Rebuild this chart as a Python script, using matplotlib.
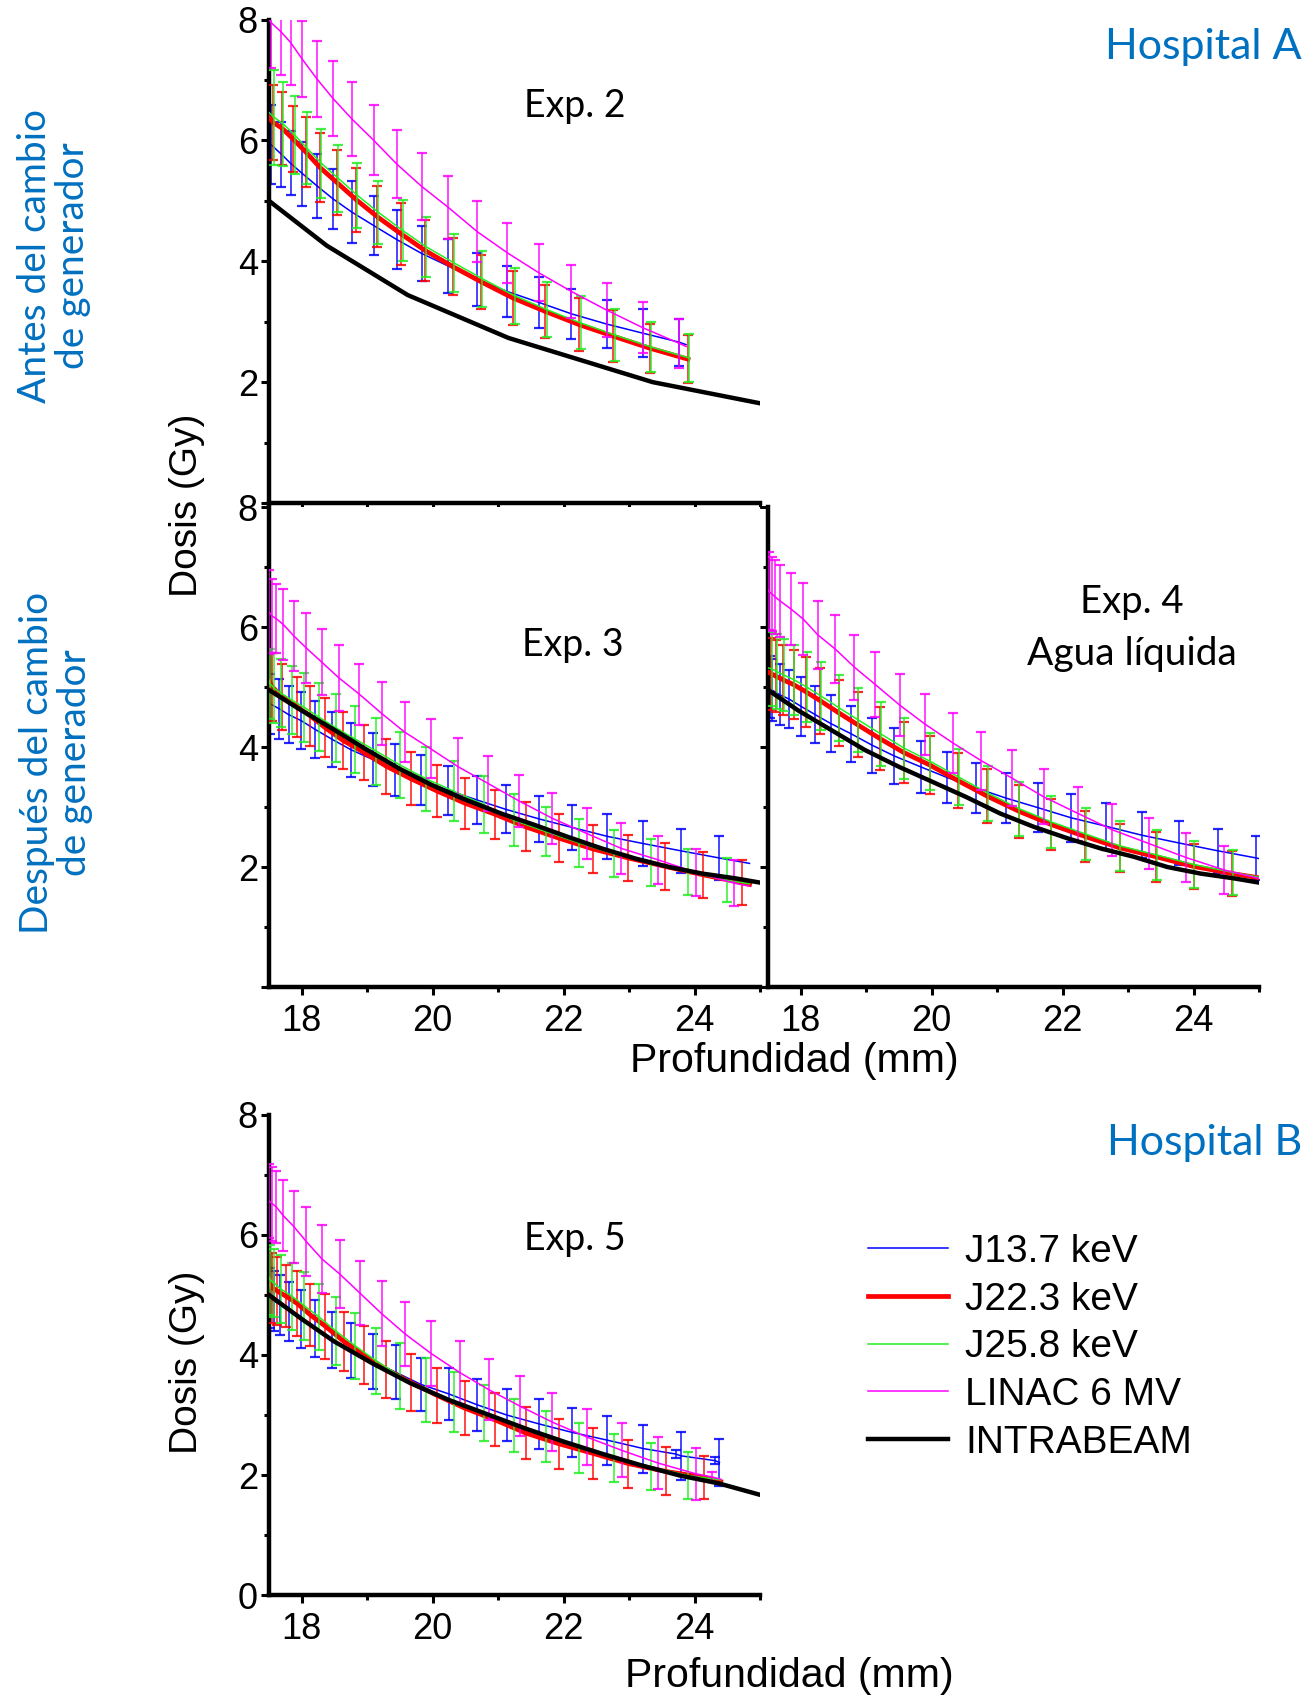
import numpy as np
import matplotlib
matplotlib.use("Agg")
import matplotlib.pyplot as plt
from matplotlib.lines import Line2D
from matplotlib.ticker import MultipleLocator

NA = np.nan  # point on the curve without an error bar

# ---------------- Exp. 2 (Hospital A, before generator change) ----------------
exp2_j137_x = [17.50, 17.53, 17.69, 17.83, 18.01, 18.23, 18.48, 18.77, 19.10, 19.45, 19.83, 20.24, 20.68, 21.14, 21.62, 22.12, 22.66, 23.21, 23.77, 23.87]
exp2_j137_y = [5.95, 5.93, 5.77, 5.62, 5.45, 5.25, 5.03, 4.81, 4.59, 4.36, 4.13, 3.92, 3.70, 3.50, 3.32, 3.13, 2.96, 2.81, 2.66, 2.62]
exp2_j137_e = [NA, 0.66, 0.54, 0.53, 0.53, 0.53, 0.50, 0.51, 0.49, 0.48, 0.46, 0.45, 0.44, 0.42, 0.42, 0.41, 0.40, 0.40, 0.39, NA]

exp2_j223_x = [17.50, 17.56, 17.70, 17.87, 18.06, 18.28, 18.54, 18.83, 19.15, 19.52, 19.88, 20.31, 20.74, 21.23, 21.72, 22.24, 22.76, 23.32, 23.90]
exp2_j223_y = [6.38, 6.30, 6.20, 6.02, 5.81, 5.55, 5.30, 5.02, 4.74, 4.45, 4.18, 3.91, 3.66, 3.39, 3.17, 2.95, 2.76, 2.56, 2.38]
exp2_j223_e = [NA, 0.62, 0.60, 0.55, 0.58, 0.57, 0.54, 0.53, 0.51, 0.51, 0.50, 0.47, 0.45, 0.45, 0.44, 0.44, 0.43, 0.41, 0.40]

exp2_j258_x = [17.50, 17.58, 17.72, 17.89, 18.08, 18.30, 18.56, 18.85, 19.17, 19.54, 19.90, 20.33, 20.76, 21.25, 21.74, 22.26, 22.78, 23.34, 23.92]
exp2_j258_y = [6.46, 6.38, 6.27, 6.09, 5.87, 5.62, 5.37, 5.09, 4.81, 4.51, 4.24, 3.97, 3.71, 3.43, 3.20, 2.98, 2.78, 2.58, 2.40]
exp2_j258_e = [NA, 0.78, 0.70, 0.64, 0.60, 0.57, 0.55, 0.54, 0.52, 0.51, 0.50, 0.48, 0.46, 0.46, 0.45, 0.44, 0.43, 0.41, 0.40]

exp2_linac_x = [17.50, 17.53, 17.68, 17.83, 18.01, 18.23, 18.48, 18.77, 19.10, 19.45, 19.83, 20.24, 20.68, 21.14, 21.62, 22.12, 22.66, 23.21, 23.77, 23.87]
exp2_linac_y = [8.00, 7.95, 7.80, 7.62, 7.34, 7.02, 6.69, 6.35, 6.00, 5.61, 5.24, 4.89, 4.49, 4.14, 3.81, 3.50, 3.19, 2.90, 2.64, 2.59]
exp2_linac_e = [NA, 0.75, 0.72, 0.70, 0.63, 0.63, 0.62, 0.61, 0.58, 0.56, 0.55, 0.52, 0.51, 0.50, 0.47, 0.44, 0.45, 0.42, 0.41, NA]

exp2_intra_x = [17.50, 18.38, 19.62, 21.16, 23.36, 25.00]
exp2_intra_y = [5.00, 4.26, 3.44, 2.73, 2.00, 1.65]

# ---------------- Exp. 3 (Hospital A, after generator change) ----------------
exp3_j137_x = [17.50, 17.52, 17.65, 17.80, 17.99, 18.21, 18.46, 18.76, 19.09, 19.43, 19.82, 20.23, 20.67, 21.12, 21.63, 22.13, 22.67, 23.22, 23.79, 24.38, 24.84]
exp3_j137_y = [4.75, 4.72, 4.64, 4.54, 4.44, 4.29, 4.13, 3.95, 3.79, 3.62, 3.45, 3.28, 3.12, 2.96, 2.80, 2.66, 2.51, 2.39, 2.27, 2.15, 2.06]
exp3_j137_e = [NA, 0.50, 0.50, 0.48, 0.48, 0.47, 0.46, 0.45, 0.44, 0.43, 0.42, 0.41, 0.40, 0.40, 0.39, 0.38, 0.38, 0.37, 0.37, 0.37, NA]

exp3_j223_x = [17.50, 17.55, 17.70, 17.93, 18.13, 18.36, 18.63, 18.95, 19.29, 19.67, 20.06, 20.50, 20.95, 21.42, 21.93, 22.45, 22.99, 23.55, 24.13, 24.72, 24.84]
exp3_j223_y = [5.10, 5.00, 4.84, 4.67, 4.52, 4.32, 4.11, 3.91, 3.68, 3.47, 3.27, 3.06, 2.88, 2.67, 2.48, 2.30, 2.15, 2.01, 1.87, 1.74, 1.71]
exp3_j223_e = [NA, 0.57, 0.55, 0.50, 0.50, 0.49, 0.47, 0.46, 0.46, 0.44, 0.43, 0.42, 0.41, 0.41, 0.40, 0.40, 0.38, 0.39, 0.38, 0.37, NA]

exp3_j258_x = [17.50, 17.52, 17.58, 17.68, 17.85, 18.04, 18.26, 18.52, 18.82, 19.14, 19.50, 19.90, 20.33, 20.78, 21.24, 21.73, 22.24, 22.77, 23.33, 23.90, 24.49, 24.84]
exp3_j258_y = [5.10, 5.05, 4.98, 4.90, 4.78, 4.66, 4.50, 4.32, 4.13, 3.93, 3.70, 3.47, 3.26, 3.04, 2.78, 2.59, 2.40, 2.22, 2.07, 1.92, 1.78, 1.72]
exp3_j258_e = [NA, 0.58, 0.58, 0.57, 0.57, 0.57, 0.57, 0.57, 0.56, 0.56, 0.55, 0.53, 0.50, 0.47, 0.43, 0.41, 0.40, 0.39, 0.39, 0.38, 0.37, NA]

exp3_linac_x = [17.50, 17.55, 17.61, 17.72, 17.88, 18.07, 18.31, 18.57, 18.88, 19.22, 19.57, 19.97, 20.39, 20.85, 21.32, 21.83, 22.35, 22.88, 23.44, 24.02, 24.61, 24.84]
exp3_linac_y = [6.25, 6.18, 6.14, 6.04, 5.85, 5.65, 5.41, 5.15, 4.88, 4.56, 4.25, 3.97, 3.67, 3.39, 3.10, 2.81, 2.56, 2.31, 2.12, 1.91, 1.73, 1.68]
exp3_linac_e = [0.70, 0.62, 0.58, 0.59, 0.58, 0.58, 0.55, 0.55, 0.51, 0.52, 0.50, 0.49, 0.48, 0.46, 0.44, 0.43, 0.43, 0.42, 0.40, 0.39, 0.38, NA]

exp3_intra_x = [17.50, 17.95, 18.46, 18.97, 19.49, 20.00, 20.46, 21.05, 21.56, 22.07, 22.58, 23.10, 23.61, 24.12, 24.63, 25.00]
exp3_intra_y = [4.95, 4.64, 4.31, 3.97, 3.64, 3.36, 3.14, 2.89, 2.70, 2.50, 2.31, 2.14, 2.00, 1.89, 1.81, 1.74]

# ---------------- Exp. 4 (liquid water) ----------------
exp4_j137_x = [17.50, 17.53, 17.56, 17.68, 17.82, 18.00, 18.22, 18.46, 18.77, 19.09, 19.43, 19.83, 20.24, 20.67, 21.13, 21.62, 22.13, 22.66, 23.21, 23.78, 24.37, 24.96, 25.00]
exp4_j137_y = [5.02, 5.00, 4.95, 4.87, 4.80, 4.68, 4.54, 4.39, 4.22, 4.03, 3.85, 3.67, 3.49, 3.32, 3.15, 2.99, 2.82, 2.68, 2.53, 2.40, 2.27, 2.15, 2.14]
exp4_j137_e = [NA, 0.52, 0.52, 0.51, 0.49, 0.49, 0.47, 0.47, 0.47, 0.46, 0.46, 0.43, 0.43, 0.42, 0.42, 0.41, 0.40, 0.39, 0.38, 0.37, 0.37, 0.37, NA]

exp4_j223_x = [17.50, 17.55, 17.62, 17.73, 17.89, 18.08, 18.30, 18.58, 18.87, 19.21, 19.57, 19.97, 20.40, 20.85, 21.33, 21.82, 22.34, 22.87, 23.43, 24.00, 24.59, 25.00]
exp4_j223_y = [5.25, 5.22, 5.18, 5.12, 5.04, 4.92, 4.77, 4.57, 4.37, 4.14, 3.91, 3.70, 3.44, 3.18, 2.93, 2.71, 2.51, 2.32, 2.17, 2.01, 1.89, 1.82]
exp4_j223_e = [NA, 0.60, 0.60, 0.58, 0.58, 0.58, 0.55, 0.55, 0.54, 0.53, 0.51, 0.48, 0.46, 0.45, 0.44, 0.42, 0.43, 0.40, 0.42, 0.38, 0.37, NA]

exp4_j258_x = [17.50, 17.56, 17.63, 17.74, 17.90, 18.09, 18.31, 18.59, 18.88, 19.22, 19.58, 19.98, 20.41, 20.86, 21.34, 21.83, 22.35, 22.88, 23.44, 24.01, 24.60, 25.00]
exp4_j258_y = [5.32, 5.30, 5.26, 5.20, 5.12, 5.00, 4.85, 4.65, 4.45, 4.22, 3.98, 3.76, 3.50, 3.23, 2.97, 2.75, 2.55, 2.35, 2.20, 2.04, 1.91, 1.83]
exp4_j258_e = [NA, 0.62, 0.62, 0.60, 0.58, 0.58, 0.56, 0.55, 0.54, 0.53, 0.51, 0.48, 0.47, 0.46, 0.45, 0.43, 0.43, 0.41, 0.42, 0.39, 0.38, NA]

exp4_linac_x = [17.50, 17.51, 17.56, 17.61, 17.69, 17.85, 18.04, 18.26, 18.53, 18.82, 19.14, 19.51, 19.90, 20.32, 20.76, 21.23, 21.71, 22.24, 22.76, 23.32, 23.88, 24.47, 25.00]
exp4_linac_y = [6.62, 6.60, 6.55, 6.50, 6.43, 6.30, 6.13, 5.87, 5.63, 5.33, 5.04, 4.70, 4.38, 4.07, 3.77, 3.48, 3.17, 2.89, 2.62, 2.39, 2.16, 1.95, 1.81]
exp4_linac_e = [NA, 0.65, 0.62, 0.62, 0.60, 0.60, 0.60, 0.57, 0.57, 0.54, 0.54, 0.52, 0.51, 0.50, 0.48, 0.47, 0.46, 0.45, 0.43, 0.43, 0.41, 0.40, NA]

exp4_intra_x = [17.50, 17.96, 18.47, 18.98, 19.50, 20.01, 20.52, 21.05, 21.56, 22.07, 22.58, 23.09, 23.60, 24.11, 24.62, 25.00]
exp4_intra_y = [4.95, 4.61, 4.28, 3.95, 3.67, 3.42, 3.17, 2.89, 2.67, 2.48, 2.31, 2.17, 2.00, 1.89, 1.81, 1.74]

# ---------------- Exp. 5 (Hospital B) ----------------
exp5_j137_x = [17.50, 17.52, 17.57, 17.67, 17.81, 17.99, 18.21, 18.46, 18.76, 19.09, 19.44, 19.82, 20.25, 20.68, 21.13, 21.63, 22.13, 22.67, 23.22, 23.71, 23.79, 24.31, 24.38]
exp5_j137_y = [4.98, 4.95, 4.90, 4.84, 4.73, 4.60, 4.44, 4.25, 4.07, 3.89, 3.71, 3.51, 3.35, 3.17, 3.00, 2.85, 2.71, 2.58, 2.44, 2.35, 2.32, 2.24, 2.21]
exp5_j137_e = [NA, 0.50, 0.50, 0.50, 0.49, 0.49, 0.48, 0.47, 0.46, 0.46, 0.45, 0.44, 0.43, 0.43, 0.43, 0.42, 0.41, 0.41, 0.40, 0.07, 0.40, 0.06, 0.39]

exp5_j223_x = [17.50, 17.55, 17.62, 17.76, 17.93, 18.13, 18.36, 18.64, 18.95, 19.29, 19.67, 20.06, 20.50, 20.95, 21.42, 21.93, 22.45, 22.99, 23.56, 24.14, 24.40]
exp5_j223_y = [5.20, 5.12, 5.07, 4.98, 4.86, 4.67, 4.48, 4.23, 4.00, 3.76, 3.54, 3.33, 3.11, 2.92, 2.70, 2.52, 2.36, 2.19, 2.06, 1.96, 1.89]
exp5_j223_e = [NA, 0.58, 0.57, 0.52, 0.54, 0.52, 0.54, 0.49, 0.49, 0.47, 0.47, 0.46, 0.45, 0.44, 0.43, 0.42, 0.42, 0.40, 0.40, 0.36, NA]

exp5_j258_x = [17.50, 17.52, 17.58, 17.68, 17.85, 18.04, 18.27, 18.52, 18.82, 19.14, 19.50, 19.90, 20.33, 20.78, 21.24, 21.73, 22.24, 22.77, 23.33, 23.90, 24.40]
exp5_j258_y = [5.30, 5.25, 5.20, 5.10, 4.98, 4.82, 4.63, 4.40, 4.15, 3.90, 3.65, 3.42, 3.22, 3.03, 2.83, 2.64, 2.45, 2.29, 2.14, 1.99, 1.92]
exp5_j258_e = [NA, 0.58, 0.56, 0.56, 0.56, 0.57, 0.55, 0.56, 0.55, 0.55, 0.55, 0.53, 0.50, 0.47, 0.44, 0.42, 0.41, 0.40, 0.39, 0.39, NA]

exp5_linac_x = [17.50, 17.55, 17.61, 17.72, 17.88, 18.07, 18.31, 18.58, 18.89, 19.22, 19.58, 19.97, 20.41, 20.86, 21.33, 21.83, 22.36, 22.89, 23.44, 24.02, 24.26, 24.40]
exp5_linac_y = [6.57, 6.52, 6.47, 6.32, 6.14, 5.89, 5.60, 5.35, 5.03, 4.69, 4.35, 4.03, 3.71, 3.42, 3.15, 2.88, 2.63, 2.41, 2.20, 2.02, 1.97, 1.93]
exp5_linac_e = [0.62, 0.62, 0.60, 0.59, 0.60, 0.58, 0.56, 0.56, 0.53, 0.54, 0.54, 0.54, 0.52, 0.51, 0.50, 0.48, 0.47, 0.45, 0.44, 0.43, 0.08, NA]

exp5_intra_x = [17.50, 18.00, 18.49, 19.08, 19.66, 20.25, 20.84, 21.43, 22.02, 22.60, 23.19, 23.78, 24.37, 25.00]
exp5_intra_y = [5.00, 4.60, 4.23, 3.86, 3.53, 3.25, 3.01, 2.77, 2.55, 2.35, 2.16, 1.99, 1.86, 1.67]

series_labels = ["J13.7 keV", "J22.3 keV", "J25.8 keV", "LINAC 6 MV", "INTRABEAM"]
series_colors = ["#0000ff", "#ff0000", "#22ee22", "#ff00ff", "#000000"]
series_widths = [1.1, 3.4, 1.1, 1.1, 3.2]

# ---------------------------------------------------------------------------
W, H = 1315, 1701
plt.rcParams['font.family'] = ['Liberation Sans', 'DejaVu Sans']
fig = plt.figure(figsize=(W / 100, H / 100), dpi=100)
TEXT_FONT = ['Lato', 'DejaVu Sans']
BLUE_TXT = '#0070C0'


def px_axes(left, top, right, bottom):
    return fig.add_axes([left / W, 1 - bottom / H, (right - left) / W, (bottom - top) / H])


def style_axes(ax, xlabels=True, ylabels=True, zero_label=True):
    ax.set_xlim(17.5, 25)
    ax.set_ylim(0, 8)
    for s in ('top', 'right'):
        ax.spines[s].set_visible(False)
    for s in ('left', 'bottom'):
        ax.spines[s].set_linewidth(3.2)
        ax.spines[s].set_capstyle('projecting')
    ax.xaxis.set_major_locator(MultipleLocator(2))
    ax.xaxis.set_minor_locator(MultipleLocator(1))
    ax.yaxis.set_major_locator(MultipleLocator(2))
    ax.yaxis.set_minor_locator(MultipleLocator(1))
    ax.tick_params(which='major', direction='out', length=6, width=2.2, labelsize=26)
    ax.tick_params(which='minor', direction='out', length=3.5, width=2.2)
    ax.tick_params(axis='x', which='major', pad=6)
    ax.tick_params(axis='y', which='major', pad=2)
    if not xlabels:
        ax.tick_params(axis='x', labelbottom=False)
    if not ylabels:
        ax.tick_params(axis='y', labelleft=False)
    elif not zero_label:
        ax.set_yticks([0, 2, 4, 6, 8])
        ax.set_yticklabels(['', '2', '4', '6', '8'])


def draw_series(ax, x, y, e, k):
    x = np.asarray(x, float)
    y = np.asarray(y, float)
    color = series_colors[k]
    z = 2 + k
    ax.plot(x, y, color=color, lw=series_widths[k], zorder=z + 0.3,
            solid_joinstyle='round')
    if e is not None:
        e = np.asarray(e, float)
        m = ~np.isnan(e)
        ax.errorbar(x[m], y[m], yerr=e[m], fmt='none', ecolor=color,
                    elinewidth=1.2, capsize=3.6, capthick=1.6, alpha=0.85, zorder=z)


def fill_panel(ax, j137, j223, j258, linac, intra):
    draw_series(ax, *j137, 0)
    draw_series(ax, *j223, 1)
    draw_series(ax, *j258, 2)
    draw_series(ax, *linac, 3)
    draw_series(ax, intra[0], intra[1], None, 4)


# Panel frames (pixel boxes)
ax2 = px_axes(269, 19.5, 760, 503)
ax3 = px_axes(269, 507, 760, 987)
ax4 = px_axes(768, 507, 1259, 987)
ax5 = px_axes(269, 1115, 760, 1595)

style_axes(ax2, xlabels=False, zero_label=False)
style_axes(ax3, zero_label=False)
style_axes(ax4, ylabels=False)
style_axes(ax5)

fill_panel(ax2, (exp2_j137_x, exp2_j137_y, exp2_j137_e), (exp2_j223_x, exp2_j223_y, exp2_j223_e),
           (exp2_j258_x, exp2_j258_y, exp2_j258_e), (exp2_linac_x, exp2_linac_y, exp2_linac_e),
           (exp2_intra_x, exp2_intra_y))
fill_panel(ax3, (exp3_j137_x, exp3_j137_y, exp3_j137_e), (exp3_j223_x, exp3_j223_y, exp3_j223_e),
           (exp3_j258_x, exp3_j258_y, exp3_j258_e), (exp3_linac_x, exp3_linac_y, exp3_linac_e),
           (exp3_intra_x, exp3_intra_y))
fill_panel(ax4, (exp4_j137_x, exp4_j137_y, exp4_j137_e), (exp4_j223_x, exp4_j223_y, exp4_j223_e),
           (exp4_j258_x, exp4_j258_y, exp4_j258_e), (exp4_linac_x, exp4_linac_y, exp4_linac_e),
           (exp4_intra_x, exp4_intra_y))
fill_panel(ax5, (exp5_j137_x, exp5_j137_y, exp5_j137_e), (exp5_j223_x, exp5_j223_y, exp5_j223_e),
           (exp5_j258_x, exp5_j258_y, exp5_j258_e), (exp5_linac_x, exp5_linac_y, exp5_linac_e),
           (exp5_intra_x, exp5_intra_y))


def ftext(x, y, s, **kw):
    return fig.text(x / W, 1 - y / H, s, ha='center', va='center', **kw)


# Experiment captions
ftext(575, 106, "Exp. 2", fontsize=27, family=TEXT_FONT)
ftext(573, 645, "Exp. 3", fontsize=27, family=TEXT_FONT)
ftext(1132, 602, "Exp. 4", fontsize=27.5, family=TEXT_FONT)
ftext(1132, 654, "Agua líquida", fontsize=28, family=TEXT_FONT)
ftext(575, 1239, "Exp. 5", fontsize=27, family=TEXT_FONT)

# Hospital headers
fig.text(1302 / W, 1 - 47 / H, "Hospital A", ha='right', va='center', fontsize=31,
         family=TEXT_FONT, color=BLUE_TXT)
fig.text(1302 / W, 1 - 1143 / H, "Hospital B", ha='right', va='center', fontsize=31,
         family=TEXT_FONT, color=BLUE_TXT)

# Row captions on the left
ftext(54, 256, "Antes del cambio\nde generador", rotation=90, fontsize=28,
      family=TEXT_FONT, color=BLUE_TXT, multialignment='center', linespacing=1.05)
ftext(56, 763, "Después del cambio\nde generador", rotation=90, fontsize=28,
      family=TEXT_FONT, color=BLUE_TXT, multialignment='center', linespacing=1.05)

# Axis titles
ftext(187, 505, "Dosis (Gy)", rotation=90, fontsize=28)
ftext(187, 1362, "Dosis (Gy)", rotation=90, fontsize=28)
ftext(794, 1061, "Profundidad (mm)", fontsize=29.5)
ftext(789, 1676, "Profundidad (mm)", fontsize=29.5)

# Legend
handles = [Line2D([], [], color=c, lw=w) for c, w in zip(series_colors, series_widths)]
fig.legend(handles, series_labels, loc='upper left', bbox_to_anchor=(868 / W, 1 - 1234 / H),
           frameon=False, fontsize=28, handlelength=2.05, handletextpad=0.45,
           labelspacing=0.30, borderpad=0, borderaxespad=0)

fig.savefig("out.png", dpi=100)
